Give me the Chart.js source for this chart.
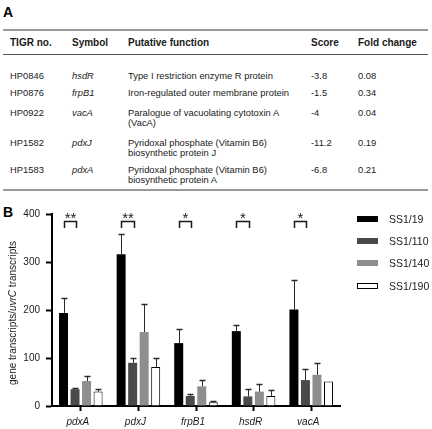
<!DOCTYPE html>
<html><head><meta charset="utf-8">
<script src="https://cdn.jsdelivr.net/npm/chart.js@4/dist/chart.umd.min.js"></script>
<style>
html,body{margin:0;padding:0;background:#fff;}
body{width:432px;height:429px;position:relative;overflow:hidden;font-family:Arial,"Liberation Sans",Helvetica,sans-serif;color:#1a1a1a;}
.abs{position:absolute;white-space:nowrap;}
.panel{font-weight:bold;font-size:14px;line-height:14px;color:#000;}
.hdr{font-weight:bold;font-size:10px;line-height:10px;}
.cell{font-size:9.4px;line-height:10px;}
.it{font-style:italic;}
#chartBox{position:absolute;left:0;top:198px;width:432px;height:231px;}
.lgbox{position:absolute;left:357px;width:21px;height:6px;box-sizing:border-box;}
.lgtxt{position:absolute;left:389px;font-size:10.5px;line-height:12px;white-space:nowrap;}
</style></head><body>
<div style="position:absolute;left:3px;top:29px;width:425px;height:0;border-top:2px solid #999999;"></div>
<div style="position:absolute;left:3px;top:54px;width:425px;height:0;border-top:1px solid #555555;"></div>
<div style="position:absolute;left:3px;top:189px;width:425px;height:0;border-top:2px solid #999999;"></div>
<div id="tableA"></div>
<div id="chartBox"><canvas id="c" width="432" height="231"></canvas></div>
<div id="legend"></div>
<script>
// ---- Panel A table data ----
const headers = ['TIGR no.', 'Symbol', 'Putative function', 'Score', 'Fold change'];
const tigrNo = ['HP0846', 'HP0876', 'HP0922', 'HP1582', 'HP1583'];
const symbols = ['hsdR', 'frpB1', 'vacA', 'pdxJ', 'pdxA'];
const functions = [
  ['Type I restriction enzyme R protein'],
  ['Iron-regulated outer membrane protein'],
  ['Paralogue of vacuolating cytotoxin A', '(VacA)'],
  ['Pyridoxal phosphate (Vitamin B6)', 'biosynthetic protein J'],
  ['Pyridoxal phosphate (Vitamin B6)', 'biosynthetic protein A']
];
const scores = ['-3.8', '-1.5', '-4', '-11.2', '-6.8'];
const foldChanges = ['0.08', '0.34', '0.04', '0.19', '0.21'];

// ---- Panel B chart data ----
const categories = ['pdxA', 'pdxJ', 'frpB1', 'hsdR', 'vacA'];
const seriesNames = ['SS1/19', 'SS1/110', 'SS1/140', 'SS1/190'];
const ss19 = [194, 316, 131, 156, 201];
const ss19Err = [30, 42, 30, 12, 62];
const ss110 = [35, 90, 21, 20, 54];
const ss110Err = [2, 10, 3, 16, 24];
const ss140 = [52, 154, 41, 30, 65];
const ss140Err = [10, 59, 14, 16, 24];
const ss190 = [30, 81, 8, 21, 51];
const ss190Err = [6, 20, 3, 12, 0];
const significance = ['**', '**', '*', '*', '*'];
const yTicks = [0, 100, 200, 300, 400];

// ---- build table A ----
(function () {
  const root = document.getElementById('tableA');
  const colX = [10, 72, 128, 311, 358];
  const rowCenters = [76, 93, 113, 143, 170];
  let html = '';
  html += '<div class="abs panel" style="left:3px;top:5px">A</div>';
  html += '<div class="abs panel" style="left:3px;top:205px">B</div>';
  headers.forEach((h, i) => {
    html += `<div class="abs hdr" style="left:${colX[i]}px;top:38px">${h}</div>`;
  });
  tigrNo.forEach((t, r) => {
    const top = rowCenters[r] - 5;
    html += `<div class="abs cell" style="left:${colX[0]}px;top:${top}px">${t}</div>`;
    html += `<div class="abs cell it" style="left:${colX[1]}px;top:${top}px">${symbols[r]}</div>`;
    html += `<div class="abs cell" style="left:${colX[2]}px;top:${top}px">${functions[r].join('<br>')}</div>`;
    html += `<div class="abs cell" style="left:${colX[3]}px;top:${top}px">${scores[r]}</div>`;
    html += `<div class="abs cell" style="left:${colX[4]}px;top:${top}px">${foldChanges[r]}</div>`;
  });
  root.innerHTML = html;
})();

// ---- chart B ----
const fills = ['#000000', '#4a4a4a', '#8e8e8e', '#ffffff'];
const seriesValues = [ss19, ss110, ss140, ss190];
const seriesErrors = [ss19Err, ss110Err, ss140Err, ss190Err];

// HTML legend
(function () {
  const root = document.getElementById('legend');
  let html = '';
  seriesNames.forEach((n, i) => {
    const cy = 198 + 21 + i * 22.2;
    const border = i === 3 ? 'border:1px solid #000;' : '';
    html += `<div class="lgbox" style="top:${cy - 3}px;background:${fills[i]};${border}"></div>`;
    html += `<div class="lgtxt" style="top:${cy - 6}px">${n}</div>`;
  });
  root.innerHTML = html;
})();

const FONT = 'Arial, "Liberation Sans", Helvetica, sans-serif';

const errorBars = {
  id: 'errorBars',
  afterDatasetsDraw(chart) {
    const ctx = chart.ctx, y = chart.scales.y;
    ctx.save();
    chart.data.datasets.forEach((ds, i) => {
      const meta = chart.getDatasetMeta(i);
      meta.data.forEach((bar, j) => {
        const e = ds.errors[j];
        if (!e) return;
        const top = Math.round(y.getPixelForValue(ds.data[j] + e)) + 0.5;
        const x = Math.round(bar.x) + 0.5;
        ctx.strokeStyle = '#2a2a2a';
        ctx.lineWidth = 1;
        ctx.beginPath();
        ctx.moveTo(x, bar.y);
        ctx.lineTo(x, top);
        ctx.stroke();
        ctx.lineWidth = 1.5;
        ctx.beginPath();
        ctx.moveTo(x - 3, top);
        ctx.lineTo(x + 3, top);
        ctx.stroke();
      });
    });
    ctx.restore();
  }
};

const sigBrackets = {
  id: 'sigBrackets',
  afterDatasetsDraw(chart) {
    const ctx = chart.ctx, y = chart.scales.y;
    const m0 = chart.getDatasetMeta(0), m1 = chart.getDatasetMeta(1);
    const yTop = Math.round(y.getPixelForValue(386)) + 0.5;
    const yLeg = y.getPixelForValue(371);
    ctx.save();
    significance.forEach((s, j) => {
      const x1 = Math.round(m0.data[j].x) + 0.5;
      const x2 = Math.round(m1.data[j].x + 1) + 0.5;
      ctx.strokeStyle = '#1a1a1a';
      ctx.lineWidth = 1.5;
      ctx.beginPath();
      ctx.moveTo(x1, yLeg);
      ctx.lineTo(x1, yTop);
      ctx.lineTo(x2, yTop);
      ctx.lineTo(x2, yLeg);
      ctx.stroke();
      ctx.fillStyle = '#1a1a1a';
      ctx.font = '15px ' + FONT;
      ctx.textAlign = 'center';
      ctx.textBaseline = 'alphabetic';
      ctx.fillText(s, (x1 + x2) / 2, yTop + 1.5);
    });
    ctx.restore();
  }
};

const yTitle = {
  id: 'yTitle',
  afterDraw(chart) {
    const { ctx, chartArea } = chart;
    const parts = [['gene transcripts/', 'normal'], ['uvrC', 'italic'], [' transcripts', 'normal']];
    ctx.save();
    const cy = (chartArea.top + chartArea.bottom) / 2 + 3;
    ctx.translate(13.5, cy);
    ctx.rotate(-Math.PI / 2);
    ctx.fillStyle = '#1a1a1a';
    ctx.textBaseline = 'middle';
    ctx.textAlign = 'left';
    let total = 0;
    parts.forEach(p => { ctx.font = p[1] + ' 10px ' + FONT; total += ctx.measureText(p[0]).width; });
    let x = -total / 2;
    parts.forEach(p => {
      ctx.font = p[1] + ' 10px ' + FONT;
      ctx.fillText(p[0], x, 0);
      x += ctx.measureText(p[0]).width;
    });
    ctx.restore();
  }
};

new Chart(document.getElementById('c'), {
  type: 'bar',
  data: {
    labels: categories,
    datasets: seriesValues.map((d, i) => ({
      label: seriesNames[i],
      data: d,
      errors: seriesErrors[i],
      backgroundColor: fills[i],
      borderColor: i === 3 ? '#000' : fills[i],
      borderWidth: i === 3 ? 1 : 0,
      categoryPercentage: 0.8,
      barPercentage: 0.78
    }))
  },
  options: {
    responsive: false,
    animation: false,
    devicePixelRatio: 1,
    layout: { padding: { left: 22, right: 92, top: 16, bottom: 0 } },
    scales: {
      x: {
        afterFit: s => { s.height = 23; },
        grid: { display: true, drawOnChartArea: false, offset: false, tickLength: 5, tickWidth: 2, tickColor: '#000' },
        border: { display: true, color: '#000', width: 2 },
        ticks: { font: { family: FONT, size: 10, style: 'italic' }, color: '#1a1a1a', padding: 5, labelOffset: -3 }
      },
      y: {
        min: 0, max: 400,
        afterBuildTicks: s => { s.ticks = yTicks.map(v => ({ value: v })); },
        afterFit: s => { s.width = 30; },
        grid: { display: true, drawOnChartArea: false, tickLength: 6, tickWidth: 2, tickColor: '#000' },
        border: { display: true, color: '#000', width: 2 },
        ticks: { font: { family: FONT, size: 10 }, color: '#1a1a1a', padding: 6 }
      }
    },
    plugins: { legend: { display: false }, tooltip: { enabled: false } }
  },
  plugins: [errorBars, sigBrackets, yTitle]
});
</script>
</body></html>
